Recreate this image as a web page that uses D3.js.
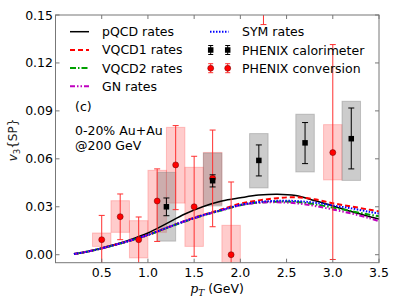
<!DOCTYPE html>
<html>
<head>
<meta charset="utf-8">
<script src="https://cdn.jsdelivr.net/npm/d3@7"></script>
<style>
  body { margin: 0; background: #fff; }
  text { font-family: "DejaVu Sans", sans-serif; }
</style>
</head>
<body>
<script>
// theory curves
const curvePt = [0.2, 0.4, 0.6, 0.8, 1.0, 1.2, 1.4, 1.6, 1.8, 2.0, 2.2, 2.4, 2.6, 2.8, 3.0, 3.2, 3.4, 3.5];
const pQCD  = [0.0004, 0.0027, 0.0058, 0.0093, 0.0136, 0.0195, 0.0255, 0.0302, 0.0336, 0.0356, 0.0373, 0.0379, 0.0370, 0.0339, 0.0305, 0.0270, 0.0238, 0.0223];
const VQCD1 = [0.0004, 0.0026, 0.0055, 0.0087, 0.0124, 0.0168, 0.0212, 0.0250, 0.0284, 0.0320, 0.0340, 0.0354, 0.0360, 0.0347, 0.0322, 0.0302, 0.0281, 0.0271];
const VQCD2 = [0.0004, 0.0026, 0.0054, 0.0086, 0.0122, 0.0166, 0.0208, 0.0246, 0.0278, 0.0310, 0.0326, 0.0332, 0.0330, 0.0316, 0.0295, 0.0273, 0.0250, 0.0240];
const GN    = [0.0004, 0.0026, 0.0055, 0.0087, 0.0123, 0.0167, 0.0210, 0.0247, 0.0279, 0.0310, 0.0325, 0.0328, 0.0322, 0.0306, 0.0283, 0.0258, 0.0228, 0.0210];
const SYM   = [0.0004, 0.0026, 0.0055, 0.0087, 0.0124, 0.0168, 0.0210, 0.0248, 0.0280, 0.0312, 0.0330, 0.0337, 0.0336, 0.0326, 0.0308, 0.0290, 0.0268, 0.0258];

// PHENIX conversion
const convPt    = [0.5, 0.7, 0.9, 1.1, 1.3, 1.5, 1.7, 1.9, 2.25, 3.0];
const convV     = [0.0094, 0.0238, 0.0094, 0.0336, 0.0562, 0.0300, 0.0478, 0.0000, 0.170, 0.0639];
const convLo    = [-0.008, 0.0094, -0.008, 0.0083, 0.0282, -0.001, 0.0175, -0.010, 0.144, -0.003];
const convHi    = [0.0246, 0.0380, 0.0236, 0.0537, 0.0808, 0.0616, 0.0780, 0.0455, 0.200, 0.1315];
const convSysLo = [0.0052, 0.0140, -0.002, 0.0140, 0.0323, 0.0052, 0.0315, -0.010, 0.160, 0.0468];
const convSysHi = [0.0136, 0.0338, 0.0213, 0.0528, 0.0797, 0.0547, 0.0640, 0.0184, 0.180, 0.0814];

// PHENIX calorimeter
const calPt    = [1.2, 1.7, 2.2, 2.7, 3.2];
const calV     = [0.0300, 0.0463, 0.0590, 0.0700, 0.0726];
const calLo    = [0.0244, 0.0424, 0.0493, 0.0570, 0.0537];
const calHi    = [0.0355, 0.0500, 0.0687, 0.0827, 0.0918];
const calSysLo = [0.0085, 0.0305, 0.0418, 0.0518, 0.0465];
const calSysHi = [0.0515, 0.0636, 0.0758, 0.0879, 0.0960];

const xTicks = [0.5, 1.0, 1.5, 2.0, 2.5, 3.0, 3.5];
const yTicks = [0.00, 0.03, 0.06, 0.09, 0.12, 0.15];

const width = 399, height = 299;
const m = {left: 55.5, right: 379, top: 15, bottom: 262.7};

const x = d3.scaleLinear().domain([0, 3.5]).range([m.left, m.right]);
const y = d3.scaleLinear().domain([-0.005, 0.15]).range([m.bottom, m.top]);

const svg = d3.select('body').append('svg')
    .attr('width', width)
    .attr('height', height);

svg.append('clipPath').attr('id', 'plot')
  .append('rect')
    .attr('x', m.left).attr('y', m.top)
    .attr('width', m.right - m.left).attr('height', m.bottom - m.top);

const plot = svg.append('g').attr('clip-path', 'url(#plot)');

const conv = convPt.map((p, i) => ({p, v: convV[i], lo: convLo[i], hi: convHi[i], sLo: convSysLo[i], sHi: convSysHi[i]}));
const cal = calPt.map((p, i) => ({p, v: calV[i], lo: calLo[i], hi: calHi[i], sLo: calSysLo[i], sHi: calSysHi[i]}));

/* ------- SYSTEMATIC BOXES -------*/
function boxes(data, fill, edge) {
  plot.append('g').selectAll('rect')
    .data(data)
    .enter().append('rect')
      .attr('x', d => x(d.p - 0.1))
      .attr('width', d => x(d.p + 0.1) - x(d.p - 0.1))
      .attr('y', d => y(d.sHi))
      .attr('height', d => y(d.sLo) - y(d.sHi))
      .attr('fill', fill)
      .attr('stroke', edge)
      .attr('stroke-width', 1);
}
boxes(conv, 'rgba(255,0,0,0.2)', 'rgba(255,0,0,0.2)');
boxes(cal, 'rgba(128,128,128,0.4)', 'rgba(128,128,128,0.4)');

/* ------- THEORY CURVES -------*/
const curves = [
  {name: 'pQCD rates',  vals: pQCD,  color: '#000000', dash: null,            w: 1.5},
  {name: 'VQCD1 rates', vals: VQCD1, color: '#ff0000', dash: '5,3',           w: 2},
  {name: 'VQCD2 rates', vals: VQCD2, color: '#00a000', dash: '6,2,1.5,2',     w: 2},
  {name: 'GN rates',    vals: GN,    color: '#bf00bf', dash: '5,2,1.5,2,1.5,2', w: 2},
  {name: 'SYM rates',   vals: SYM,   color: '#0000ff', dash: '1.5,1.5',       w: 2}
];

const line = d3.line()
    .x((d, i) => x(curvePt[i]))
    .y(d => y(d))
    .curve(d3.curveCatmullRom);

plot.append('g').selectAll('path')
  .data(curves)
  .enter().append('path')
    .attr('d', d => line(d.vals))
    .attr('fill', 'none')
    .attr('stroke', d => d.color)
    .attr('stroke-width', d => d.w)
    .attr('stroke-dasharray', d => d.dash);

/* ------- ERROR BARS + MARKERS -------*/
function errbars(data, color) {
  const g = plot.append('g').attr('stroke', color).attr('stroke-width', 1);
  data.forEach(d => {
    g.append('line').attr('x1', x(d.p)).attr('x2', x(d.p)).attr('y1', y(d.lo)).attr('y2', y(d.hi));
    [d.lo, d.hi].forEach(v => g.append('line')
      .attr('x1', x(d.p) - 3).attr('x2', x(d.p) + 3).attr('y1', y(v)).attr('y2', y(v)));
  });
}
errbars(conv, '#ff3030');
errbars(cal, '#000000');

plot.append('g').selectAll('circle')
  .data(conv)
  .enter().append('circle')
    .attr('cx', d => x(d.p))
    .attr('cy', d => y(d.v))
    .attr('r', 3)
    .attr('fill', '#ff0000')
    .attr('stroke', '#600')
    .attr('stroke-width', 0.5);

plot.append('g').selectAll('rect')
  .data(cal)
  .enter().append('rect')
    .attr('x', d => x(d.p) - 2.75)
    .attr('y', d => y(d.v) - 2.75)
    .attr('width', 5.5).attr('height', 5.5)
    .attr('fill', '#000');

/* ------- AXES -------*/
const frame = '#777';
svg.append('rect')
    .attr('x', m.left).attr('y', m.top)
    .attr('width', m.right - m.left).attr('height', m.bottom - m.top)
    .attr('fill', 'none').attr('stroke', frame).attr('stroke-width', 1);

const xAxis = svg.append('g');
xTicks.forEach(t => {
  xAxis.append('line').attr('x1', x(t)).attr('x2', x(t)).attr('y1', m.bottom).attr('y2', m.bottom - 4).attr('stroke', frame);
  xAxis.append('line').attr('x1', x(t)).attr('x2', x(t)).attr('y1', m.top).attr('y2', m.top + 4).attr('stroke', frame);
  xAxis.append('text').attr('x', x(t)).attr('y', 277)
    .attr('text-anchor', 'middle').attr('font-size', 12.5)
    .text(d3.format('.1f')(t));
});

const yAxis = svg.append('g');
yTicks.forEach(t => {
  yAxis.append('line').attr('x1', m.left).attr('x2', m.left + 4).attr('y1', y(t)).attr('y2', y(t)).attr('stroke', frame);
  yAxis.append('line').attr('x1', m.right).attr('x2', m.right - 4).attr('y1', y(t)).attr('y2', y(t)).attr('stroke', frame);
  yAxis.append('text').attr('x', 53).attr('y', y(t)).attr('dy', '0.36em')
    .attr('text-anchor', 'end').attr('font-size', 12.5)
    .text(d3.format('.2f')(t));
});

// axis labels
const xl = svg.append('text').attr('x', 217).attr('y', 293).attr('text-anchor', 'middle').attr('font-size', 12.5);
xl.append('tspan').attr('font-family', 'DejaVu Serif').attr('font-style', 'italic').text('p');
xl.append('tspan').attr('font-family', 'DejaVu Serif').attr('font-style', 'italic').attr('font-size', 9).attr('dy', 2.5).text('T');
xl.append('tspan').attr('dy', -2.5).text(' (GeV)');

const yl = svg.append('text').attr('transform', 'translate(17,140) rotate(-90)')
    .attr('text-anchor', 'middle').attr('font-size', 12).attr('font-family', 'DejaVu Serif')
    .attr('fill', '#222');
yl.append('tspan').attr('font-style', 'italic').text('v');
yl.append('tspan').attr('font-size', 8.5).attr('dy', 2.5).text('3');
yl.append('tspan').attr('dy', -2.5).text('{SP}');

/* ------- LEGEND -------*/
const leg = svg.append('g').attr('font-size', 12.5);
const leftRows = curves.slice(0, 4);
leftRows.forEach((c, i) => {
  const yy = 31.7 + i * 18.2;
  leg.append('line').attr('x1', 70).attr('x2', 89).attr('y1', yy).attr('y2', yy)
    .attr('stroke', c.color).attr('stroke-width', c.w).attr('stroke-dasharray', c.dash);
  leg.append('text').attr('x', 102).attr('y', yy).attr('dy', '0.36em').text(c.name);
});
const sym = curves[4];
leg.append('line').attr('x1', 210).attr('x2', 228.5).attr('y1', 31.7).attr('y2', 31.7)
  .attr('stroke', sym.color).attr('stroke-width', sym.w).attr('stroke-dasharray', sym.dash);
leg.append('text').attr('x', 242).attr('y', 31.7).attr('dy', '0.36em').text(sym.name);

const legPts = [
  {name: 'PHENIX calorimeter', color: '#000', bar: '#000', square: true},
  {name: 'PHENIX conversion', color: '#ff0000', bar: '#ff3030', square: false}
];
legPts.forEach((d, i) => {
  const yy = 50 + i * 18.2;
  [210.7, 227.7].forEach(xx => {
    leg.append('line').attr('x1', xx).attr('x2', xx).attr('y1', yy - 4.5).attr('y2', yy + 4.5).attr('stroke', d.bar);
    [yy - 4.5, yy + 4.5].forEach(v => leg.append('line')
      .attr('x1', xx - 2.5).attr('x2', xx + 2.5).attr('y1', v).attr('y2', v).attr('stroke', d.bar));
    if (d.square) {
      leg.append('rect').attr('x', xx - 2.75).attr('y', yy - 2.75).attr('width', 5.5).attr('height', 5.5).attr('fill', d.color);
    } else {
      leg.append('circle').attr('cx', xx).attr('cy', yy).attr('r', 3).attr('fill', d.color).attr('stroke', '#600').attr('stroke-width', 0.5);
    }
  });
  leg.append('text').attr('x', 242).attr('y', yy).attr('dy', '0.36em').text(d.name);
});

/* ------- ANNOTATIONS -------*/
const note = svg.append('g').attr('font-size', 12.5);
note.append('text').attr('x', 75).attr('y', 111).text('(c)');
note.append('text').attr('x', 75).attr('y', 135).text('0-20% Au+Au');
note.append('text').attr('x', 75).attr('y', 150).text('@200 GeV');
</script>
</body>
</html>
